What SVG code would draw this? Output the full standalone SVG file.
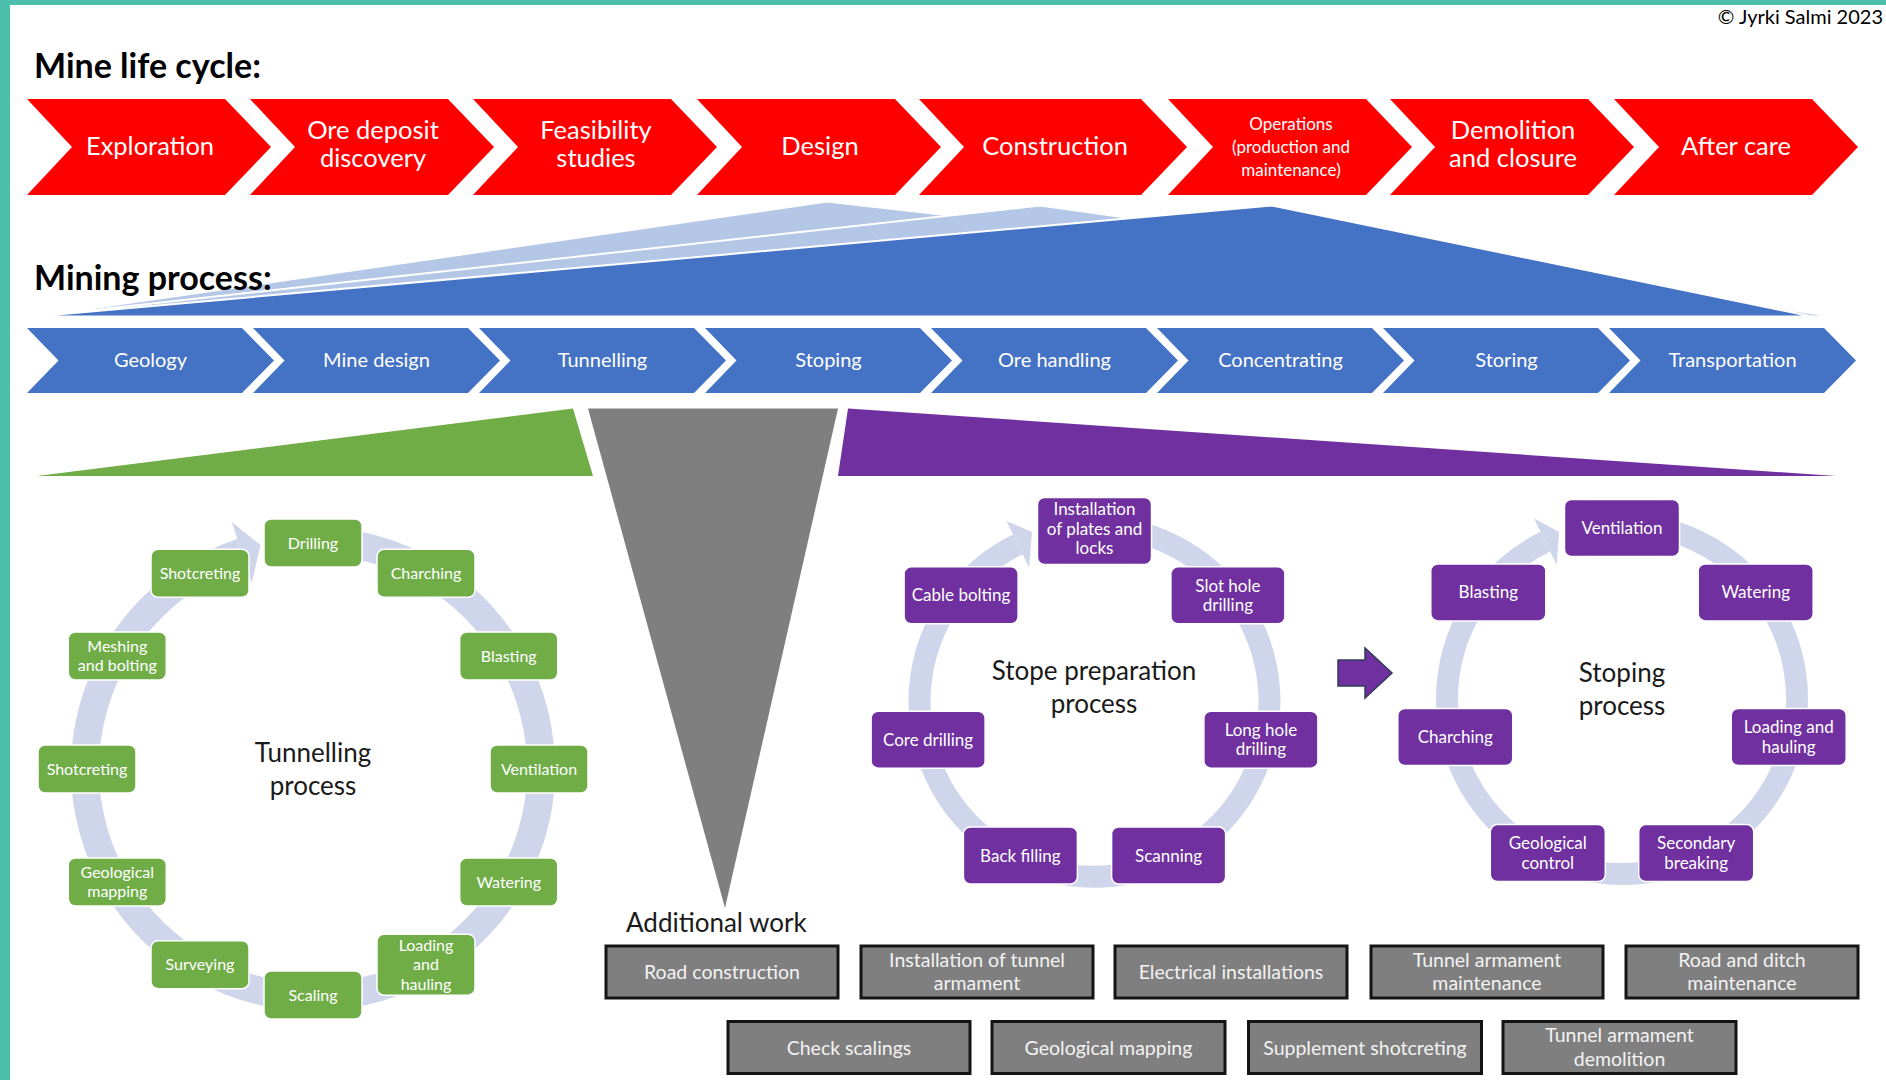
<svg xmlns="http://www.w3.org/2000/svg" xmlns:xlink="http://www.w3.org/1999/xlink" width="1886" height="1080" viewBox="0 0 1886 1080">
<style>
text{font-family:Lato,"Liberation Sans",sans-serif}
.red{fill:#FF0000}
.blue{fill:#4472C4}
.lt{fill:#B4C7E7;stroke:#FFFFFF;stroke-width:2}
.dk{fill:#4472C4;stroke:#FFFFFF;stroke-width:2}
.h{font-weight:bold;font-size:34px;fill:#000}
.rt{font-size:25.5px;fill:#FFFFFF;text-anchor:middle}
.rs{font-size:17px;fill:#FFFFFF;text-anchor:middle}
.bt{font-size:20px;fill:#FFFFFF;text-anchor:middle}
.ring{fill:none;stroke:#CFD5EA}
.head{fill:#CFD5EA}
.g{fill:#70AD47;stroke:#FFFFFF;stroke-width:1.5}
.p{fill:#7030A0;stroke:#FFFFFF;stroke-width:1.5}
.gt{font-size:16px;fill:#FFFFFF;text-anchor:middle}
.pt{font-size:17px;fill:#FFFFFF;text-anchor:middle}
.ct{font-size:26px;fill:#1A1A1A;text-anchor:middle}
.gb{fill:#7F7F7F;stroke:#141414;stroke-width:3}
.gbt{font-size:19.5px;fill:#F2F2F2;text-anchor:middle}
</style>
<defs>
<polygon id="rchev" class="red" points="0,99 198,99 244,147 198,195 0,195 45,147"/>
<polygon id="bchev" class="blue" points="0,328 215,328 247,360.5 215,393 0,393 31.5,360.5"/>
</defs>
<rect x="0" y="0" width="1886" height="1080" fill="#FFFFFF"/>
<rect x="0" y="0" width="1886" height="5" fill="#4DBFAD"/>
<rect x="0" y="0" width="10" height="1080" fill="#4DBFAD"/>
<text x="1883" y="24" text-anchor="end" style="font-size:20px;fill:#000">© Jyrki Salmi 2023</text>
<text class="h" x="34" y="78">Mine life cycle:</text>

<g id="lifecycle">
<g id="exploration"><use xlink:href="#rchev" x="27"/><text class="rt" x="150" y="155">Exploration</text></g>
<g id="ore-deposit"><use xlink:href="#rchev" x="250"/><text class="rt" x="373" y="139">Ore deposit</text><text class="rt" x="373" y="167">discovery</text></g>
<g id="feasibility"><use xlink:href="#rchev" x="473"/><text class="rt" x="596" y="139">Feasibility</text><text class="rt" x="596" y="167">studies</text></g>
<g id="design"><use xlink:href="#rchev" x="697"/><text class="rt" x="820" y="155">Design</text></g>
<g id="construction"><polygon class="red" points="919,99 1141,99 1187,147 1141,195 919,195 964,147"/><text class="rt" x="1055" y="155">Construction</text></g>
<g id="operations"><use xlink:href="#rchev" x="1168"/><text class="rs" x="1291" y="130">Operations</text><text class="rs" x="1291" y="153">(production and</text><text class="rs" x="1291" y="176">maintenance)</text></g>
<g id="demolition"><use xlink:href="#rchev" x="1390"/><text class="rt" x="1513" y="139">Demolition</text><text class="rt" x="1513" y="167">and closure</text></g>
<g id="aftercare"><use xlink:href="#rchev" x="1614"/><text class="rt" x="1736" y="155">After care</text></g>
</g>

<g id="mining-triangles">
<polygon class="lt" points="35,316.5 827,201.5 1840,316.5"/>
<polygon class="lt" points="35,316.5 1040,205.5 1835,316.5"/>
<polygon class="dk" points="35,316.5 1272,205.5 1812,316.5"/>
</g>
<text class="h" x="34" y="290">Mining process:</text>

<g id="mining">
<g id="geology"><use xlink:href="#bchev" x="27"/><text class="bt" x="150.5" y="367">Geology</text></g>
<g id="mine-design"><use xlink:href="#bchev" x="253"/><text class="bt" x="376.5" y="367">Mine design</text></g>
<g id="tunnelling"><use xlink:href="#bchev" x="479"/><text class="bt" x="602.5" y="367">Tunnelling</text></g>
<g id="stoping"><use xlink:href="#bchev" x="705"/><text class="bt" x="828.5" y="367">Stoping</text></g>
<g id="ore-handling"><use xlink:href="#bchev" x="931"/><text class="bt" x="1054.5" y="367">Ore handling</text></g>
<g id="concentrating"><use xlink:href="#bchev" x="1157"/><text class="bt" x="1280.5" y="367">Concentrating</text></g>
<g id="storing"><use xlink:href="#bchev" x="1383"/><text class="bt" x="1506.5" y="367">Storing</text></g>
<g id="transportation"><use xlink:href="#bchev" x="1609"/><text class="bt" x="1732.5" y="367">Transportation</text></g>
</g>

<g id="wedges">
<polygon fill="#70AD47" points="37,476 573,408.5 593,476"/>
<polygon fill="#7F7F7F" points="588,408.5 838,408.5 725,908"/>
<polygon fill="#7030A0" points="848,408.5 1836,476 838,476"/>
</g>

<g id="connectors">
<path class="ring" stroke-width="28" d="M 313 541 A 228 228 0 1 1 241.8 552.4"/>
<polygon class="head" points="231.8,522 260.5,545.1 251.8,582.8"/>
<path class="ring" stroke-width="22" d="M 1094.5 526.7 A 175 175 0 1 1 1017.8 544.4"/>
<polygon class="head" points="1006.4,521 1032,532 1029.2,567.8"/>
<path class="ring" stroke-width="22" d="M 1622 524 A 175 175 0 1 1 1545.3 541.7"/>
<polygon class="head" points="1533.9,518.3 1559,532 1556.7,565.1"/>
<polygon fill="#7030A0" stroke="#2F3B57" stroke-width="1.5" points="1338,660 1365,660 1365,648 1392,673 1365,698 1365,686 1338,686"/>
</g>

<g id="tunnelling-cycle">
<text class="ct" x="313" y="762">Tunnelling</text>
<text class="ct" x="313" y="795">process</text>
<g id="t-drilling"><rect class="g" x="264" y="519" width="98" height="48" rx="7"/><text class="gt" x="313" y="548.5">Drilling</text></g>
<g id="t-charching"><rect class="g" x="377" y="549.3" width="98" height="48" rx="7"/><text class="gt" x="426" y="578.8">Charching</text></g>
<g id="t-blasting"><rect class="g" x="459.7" y="632" width="98" height="48" rx="7"/><text class="gt" x="508.7" y="661.5">Blasting</text></g>
<g id="t-ventilation"><rect class="g" x="490" y="745" width="98" height="48" rx="7"/><text class="gt" x="539" y="774.5">Ventilation</text></g>
<g id="t-watering"><rect class="g" x="459.7" y="858" width="98" height="48" rx="7"/><text class="gt" x="508.7" y="887.5">Watering</text></g>
<g id="t-loading"><rect class="g" x="377" y="934.2" width="98" height="61" rx="7"/><text class="gt" x="426" y="950.5">Loading</text><text class="gt" x="426" y="970">and</text><text class="gt" x="426" y="989.5">hauling</text></g>
<g id="t-scaling"><rect class="g" x="264" y="971" width="98" height="48" rx="7"/><text class="gt" x="313" y="1000.5">Scaling</text></g>
<g id="t-surveying"><rect class="g" x="151" y="940.7" width="98" height="48" rx="7"/><text class="gt" x="200" y="970.2">Surveying</text></g>
<g id="t-geomapping"><rect class="g" x="68.3" y="858" width="98" height="48" rx="7"/><text class="gt" x="117.3" y="878">Geological</text><text class="gt" x="117.3" y="897">mapping</text></g>
<g id="t-shotcreting2"><rect class="g" x="38" y="745" width="98" height="48" rx="7"/><text class="gt" x="87" y="774.5">Shotcreting</text></g>
<g id="t-meshing"><rect class="g" x="68.3" y="632" width="98" height="48" rx="7"/><text class="gt" x="117.3" y="652">Meshing</text><text class="gt" x="117.3" y="671">and bolting</text></g>
<g id="t-shotcreting1"><rect class="g" x="151" y="549.3" width="98" height="48" rx="7"/><text class="gt" x="200" y="578.8">Shotcreting</text></g>
</g>

<g id="stope-prep-cycle">
<text class="ct" x="1094" y="680">Stope preparation</text>
<text class="ct" x="1094" y="713">process</text>
<g id="s-installation"><rect class="p" x="1037.5" y="497.5" width="114" height="67" rx="7"/><text class="pt" x="1094.5" y="515">Installation</text><text class="pt" x="1094.5" y="534.5">of plates and</text><text class="pt" x="1094.5" y="554">locks</text></g>
<g id="s-slothole"><rect class="p" x="1170.9" y="566.8" width="114" height="57" rx="7"/><text class="pt" x="1227.9" y="591.5">Slot hole</text><text class="pt" x="1227.9" y="611">drilling</text></g>
<g id="s-longhole"><rect class="p" x="1203.9" y="711.2" width="114" height="57" rx="7"/><text class="pt" x="1260.9" y="735.9">Long hole</text><text class="pt" x="1260.9" y="755.4">drilling</text></g>
<g id="s-scanning"><rect class="p" x="1111.6" y="827" width="114" height="57" rx="7"/><text class="pt" x="1168.6" y="861.5">Scanning</text></g>
<g id="s-backfilling"><rect class="p" x="963.4" y="827" width="114" height="57" rx="7"/><text class="pt" x="1020.4" y="861.5">Back filling</text></g>
<g id="s-coredrilling"><rect class="p" x="871.1" y="711.2" width="114" height="57" rx="7"/><text class="pt" x="928.1" y="745.7">Core drilling</text></g>
<g id="s-cablebolting"><rect class="p" x="904.1" y="566.8" width="114" height="57" rx="7"/><text class="pt" x="961.1" y="601.3">Cable bolting</text></g>
</g>

<g id="stoping-cycle">
<text class="ct" x="1622" y="682">Stoping</text>
<text class="ct" x="1622" y="715">process</text>
<g id="p-ventilation"><rect class="p" x="1564.5" y="499.5" width="115" height="57" rx="7"/><text class="pt" x="1622" y="534">Ventilation</text></g>
<g id="p-watering"><rect class="p" x="1698.2" y="563.9" width="115" height="57" rx="7"/><text class="pt" x="1755.7" y="598.4">Watering</text></g>
<g id="p-loading"><rect class="p" x="1731.2" y="708.5" width="115" height="57" rx="7"/><text class="pt" x="1788.7" y="733.2">Loading and</text><text class="pt" x="1788.7" y="752.7">hauling</text></g>
<g id="p-secondary"><rect class="p" x="1638.7" y="824.6" width="115" height="57" rx="7"/><text class="pt" x="1696.2" y="849.3">Secondary</text><text class="pt" x="1696.2" y="868.8">breaking</text></g>
<g id="p-geocontrol"><rect class="p" x="1490.3" y="824.6" width="115" height="57" rx="7"/><text class="pt" x="1547.8" y="849.3">Geological</text><text class="pt" x="1547.8" y="868.8">control</text></g>
<g id="p-charching"><rect class="p" x="1397.8" y="708.5" width="115" height="57" rx="7"/><text class="pt" x="1455.3" y="743">Charching</text></g>
<g id="p-blasting"><rect class="p" x="1430.8" y="563.9" width="115" height="57" rx="7"/><text class="pt" x="1488.3" y="598.4">Blasting</text></g>
</g>

<g id="additional-work">
<text x="626" y="932" style="font-size:26px;fill:#1A1A1A">Additional work</text>
<g id="a-road"><rect class="gb" x="606" y="946" width="232" height="52"/><text class="gbt" x="722" y="979">Road construction</text></g>
<g id="a-install"><rect class="gb" x="861" y="946" width="232" height="52"/><text class="gbt" x="977" y="966.5">Installation of tunnel</text><text class="gbt" x="977" y="990">armament</text></g>
<g id="a-electrical"><rect class="gb" x="1115" y="946" width="232" height="52"/><text class="gbt" x="1231" y="979">Electrical installations</text></g>
<g id="a-maint"><rect class="gb" x="1371" y="946" width="232" height="52"/><text class="gbt" x="1487" y="966.5">Tunnel armament</text><text class="gbt" x="1487" y="990">maintenance</text></g>
<g id="a-ditch"><rect class="gb" x="1626" y="946" width="232" height="52"/><text class="gbt" x="1742" y="966.5">Road and ditch</text><text class="gbt" x="1742" y="990">maintenance</text></g>
<g id="a-check"><rect class="gb" x="728" y="1021.5" width="242" height="52"/><text class="gbt" x="849" y="1054.5">Check scalings</text></g>
<g id="a-geomap"><rect class="gb" x="992" y="1021.5" width="233" height="52"/><text class="gbt" x="1108.5" y="1054.5">Geological mapping</text></g>
<g id="a-shot"><rect class="gb" x="1248.5" y="1021.5" width="233" height="52"/><text class="gbt" x="1365" y="1054.5">Supplement shotcreting</text></g>
<g id="a-demol"><rect class="gb" x="1503" y="1021.5" width="233" height="52"/><text class="gbt" x="1619.5" y="1042">Tunnel armament</text><text class="gbt" x="1619.5" y="1065.5">demolition</text></g>
</g>
</svg>
